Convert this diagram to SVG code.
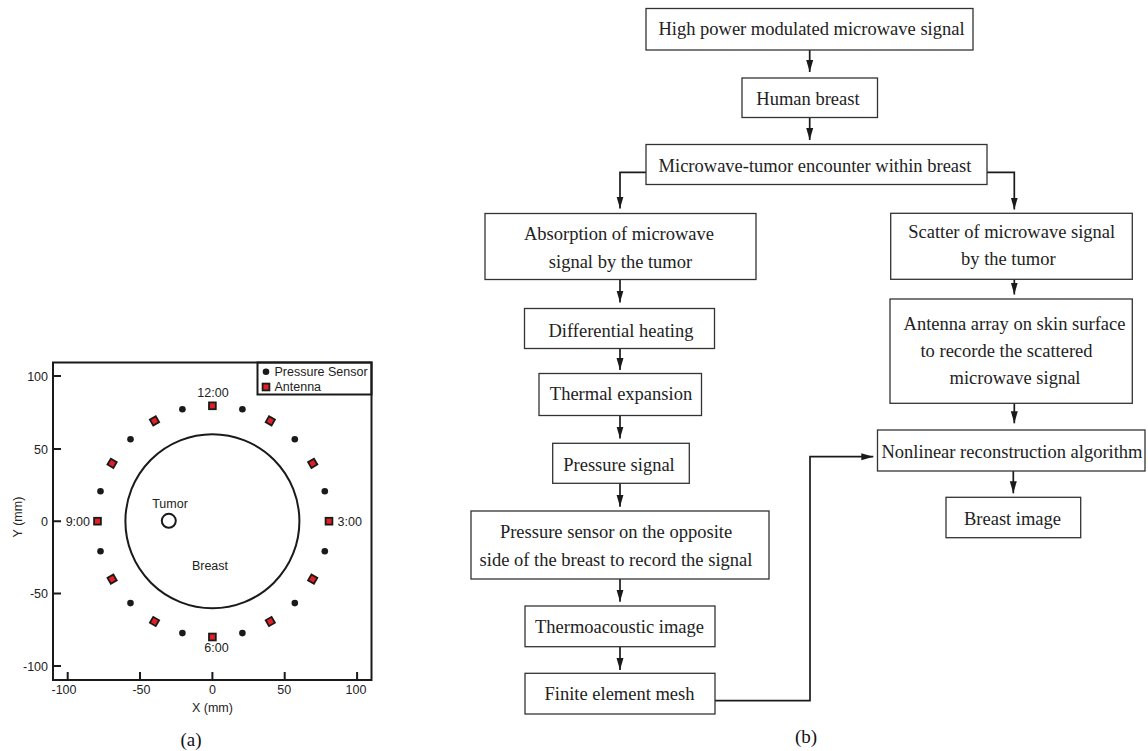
<svg xmlns="http://www.w3.org/2000/svg" width="1148" height="751" viewBox="0 0 1148 751">
<style>
.ax{fill:none;stroke:#1a1a1a;stroke-width:2}
.pt{font-family:"Liberation Sans",Arial,sans-serif;font-size:12.5px;fill:#222}
.box{fill:#fff;stroke:#333;stroke-width:1.3}
.ft{font-family:"Liberation Serif","Times New Roman",serif;font-size:18.5px;fill:#222;text-anchor:middle}
.cn{fill:none;stroke:#1a1a1a;stroke-width:1.7}
.cap{font-family:"Liberation Serif","Times New Roman",serif;font-size:19px;fill:#111;text-anchor:middle}
.sen{fill:#1a1a1a}
.ant{fill:#e31e24;stroke:#1a1a1a;stroke-width:1.8}
</style>
<defs>
<marker id="ah" markerUnits="userSpaceOnUse" markerWidth="13" markerHeight="8" refX="12" refY="4" orient="auto">
<path d="M0,0.5 L12,4 L0,7.5 z" fill="#1a1a1a"/>
</marker>
<rect id="sq" x="-3.4" y="-3.4" width="6.8" height="6.8" class="ant"/>
<circle id="dot" r="3.3" class="sen"/>
</defs>
<rect width="1148" height="751" fill="#fff"/>

<!-- (a) plot -->
<g id="plot">
<rect x="53" y="362.5" width="318.5" height="317.5" class="ax"/>
<g id="ticks" class="ax">
<path d="M53,376H61M53,448.9H61M53,521.2H61M53,593.6H61M53,665.9H61"/>
<path d="M67.7,680V672M140,680V672M212.4,680V672M284.7,680V672M357.1,680V672"/>
</g>
<g class="pt" text-anchor="end">
<text x="48" y="380.7">100</text>
<text x="48" y="453.6">50</text>
<text x="48" y="525.9">0</text>
<text x="48" y="598.3">-50</text>
<text x="48" y="670.6">-100</text>
</g>
<g class="pt" text-anchor="middle">
<text x="64" y="694">-100</text>
<text x="141.5" y="694">-50</text>
<text x="212.4" y="694">0</text>
<text x="284.2" y="694">50</text>
<text x="356" y="694">100</text>
<text x="212.4" y="711.5">X (mm)</text>
<text transform="translate(22,517) rotate(-90)">Y (mm)</text>
</g>
<g id="legend">
<rect x="257.5" y="362.5" width="114" height="32" class="ax"/>
<use href="#dot" x="266" y="371.7"/>
<text class="pt" x="274.5" y="376">Pressure Sensor</text>
<use href="#sq" x="266" y="387"/>
<text class="pt" x="274.5" y="391">Antenna</text>
</g>
<g id="breast">
<circle cx="212.4" cy="521.2" r="87" fill="none" stroke="#1a1a1a" stroke-width="2"/>
<text class="pt" x="210" y="570" text-anchor="middle">Breast</text>
</g>
<g id="tumor">
<circle cx="168.8" cy="520.8" r="7" fill="none" stroke="#1a1a1a" stroke-width="2"/>
<text class="pt" x="170" y="507.8" text-anchor="middle">Tumor</text>
</g>
<g id="sensors">
<use href="#dot" x="242.4" y="409.3"/>
<use href="#dot" x="294.8" y="439.3"/>
<use href="#dot" x="324.8" y="491.2"/>
<use href="#dot" x="324.8" y="551.2"/>
<use href="#dot" x="294.8" y="603.1"/>
<use href="#dot" x="242.4" y="633.1"/>
<use href="#dot" x="182.4" y="633.1"/>
<use href="#dot" x="130.5" y="603.1"/>
<use href="#dot" x="100.5" y="551.2"/>
<use href="#dot" x="100.5" y="491.2"/>
<use href="#dot" x="130.5" y="439.3"/>
<use href="#dot" x="182.4" y="409.3"/>
</g>
<g id="antennas">
<use href="#sq" transform="translate(212.4,405.8)"/>
<use href="#sq" transform="translate(270.3,420.9) rotate(30)"/>
<use href="#sq" transform="translate(312.7,463.3) rotate(60)"/>
<use href="#sq" transform="translate(329,521.2)"/>
<use href="#sq" transform="translate(312.7,579.1) rotate(120)"/>
<use href="#sq" transform="translate(270.3,621.5) rotate(150)"/>
<use href="#sq" transform="translate(212.4,637)"/>
<use href="#sq" transform="translate(154.5,621.5) rotate(210)"/>
<use href="#sq" transform="translate(112.1,579.1) rotate(240)"/>
<use href="#sq" transform="translate(97.5,521.2)"/>
<use href="#sq" transform="translate(112.1,463.3) rotate(300)"/>
<use href="#sq" transform="translate(154.5,420.9) rotate(330)"/>
</g>
<g class="pt">
<text x="213" y="397" text-anchor="middle">12:00</text>
<text x="216.5" y="652" text-anchor="middle">6:00</text>
<text x="90" y="525.7" text-anchor="end">9:00</text>
<text x="337.5" y="525.7">3:00</text>
</g>
</g>
<text class="cap" x="191" y="746">(a)</text>

<!-- (b) flowchart -->
<g id="connectors">
<path class="cn" marker-end="url(#ah)" d="M809.7,50V72"/>
<path class="cn" marker-end="url(#ah)" d="M809.7,117.5V140"/>
<path class="cn" marker-end="url(#ah)" d="M646,172.3H620V208.5"/>
<path class="cn" marker-end="url(#ah)" d="M987,172.3H1014.3V209.5"/>
<path class="cn" marker-end="url(#ah)" d="M620,279.5V302.5"/>
<path class="cn" marker-end="url(#ah)" d="M620,348.5V370"/>
<path class="cn" marker-end="url(#ah)" d="M620,415.7V438.5"/>
<path class="cn" marker-end="url(#ah)" d="M620,483.3V506.7"/>
<path class="cn" marker-end="url(#ah)" d="M620,579V601.7"/>
<path class="cn" marker-end="url(#ah)" d="M620,646.7V670"/>
<path class="cn" marker-end="url(#ah)" d="M715,700.7H810V456.7H873.3"/>
<path class="cn" marker-end="url(#ah)" d="M1014.3,279.3V294.5"/>
<path class="cn" marker-end="url(#ah)" d="M1014.3,403.3V423.3"/>
<path class="cn" marker-end="url(#ah)" d="M1013.3,471V493.3"/>
</g>
<g id="n1"><rect class="box" x="646" y="8.5" width="327" height="41.5"/><text class="ft" x="811.5" y="35">High power modulated microwave signal</text></g>
<g id="n2"><rect class="box" x="742" y="78" width="135.5" height="39.5"/><text class="ft" x="808" y="105">Human breast</text></g>
<g id="n3"><rect class="box" x="646" y="144.5" width="341" height="40"/><text class="ft" x="815" y="171.5">Microwave-tumor encounter within breast</text></g>
<g id="n4"><rect class="box" x="485" y="213.5" width="271" height="66"/><text class="ft" x="619" y="240">Absorption of microwave</text><text class="ft" x="620.5" y="267.5">signal by the tumor</text></g>
<g id="n5"><rect class="box" x="524.5" y="308.5" width="190" height="40"/><text class="ft" x="621" y="336.5">Differential heating</text></g>
<g id="n6"><rect class="box" x="539" y="373.5" width="162.5" height="42"/><text class="ft" x="621" y="400">Thermal expansion</text></g>
<g id="n7"><rect class="box" x="552.7" y="443.3" width="136.6" height="40"/><text class="ft" x="619" y="471">Pressure signal</text></g>
<g id="n8"><rect class="box" x="471" y="511" width="298" height="68"/><text class="ft" x="616" y="538">Pressure sensor on the opposite</text><text class="ft" x="616" y="565.5">side of the breast to record the signal</text></g>
<g id="n9"><rect class="box" x="525" y="606" width="190" height="40.7"/><text class="ft" x="619.5" y="632.5">Thermoacoustic image</text></g>
<g id="n10"><rect class="box" x="525" y="673.3" width="190" height="40.7"/><text class="ft" x="619.5" y="699.5">Finite element mesh</text></g>
<g id="n11"><rect class="box" x="890.7" y="213.3" width="241.6" height="66"/><text class="ft" x="1011.7" y="238">Scatter of microwave signal</text><text class="ft" x="1008.3" y="265">by the tumor</text></g>
<g id="n12"><rect class="box" x="890" y="299" width="242.3" height="104.3"/><text class="ft" x="1014.5" y="330">Antenna array on skin surface</text><text class="ft" x="1006.5" y="357">to recorde the scattered</text><text class="ft" x="1015" y="384">microwave signal</text></g>
<g id="n13"><rect class="box" x="877.5" y="430" width="267.5" height="41"/><text class="ft" x="1012" y="458">Nonlinear reconstruction algorithm</text></g>
<g id="n14"><rect class="box" x="946" y="497.3" width="134.7" height="40.4"/><text class="ft" x="1012.5" y="524.5">Breast image</text></g>
<text class="cap" x="806" y="743">(b)</text>
</svg>
